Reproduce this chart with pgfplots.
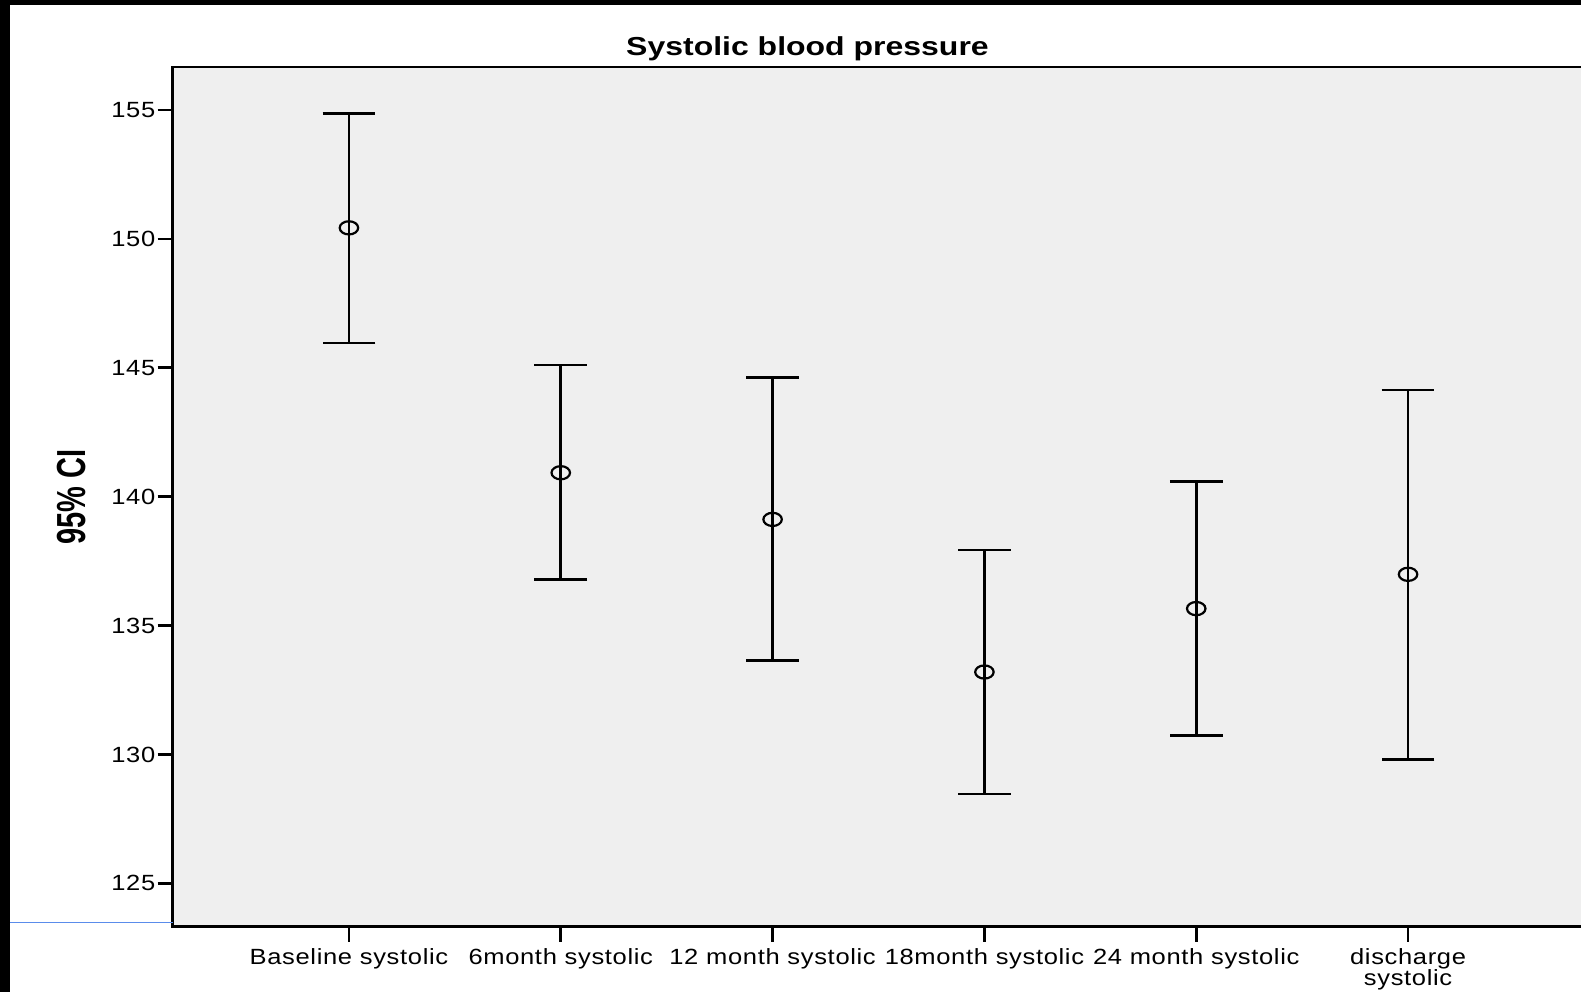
\documentclass[border=0pt]{standalone}
\usepackage{fontspec}
\setmainfont[FakeStretch=1.16,LetterSpace=3]{Liberation Sans}
\newfontfamily\titlefont[FakeStretch=1.23]{Liberation Sans}
\newfontfamily\plainfont{Liberation Sans}
\usepackage{graphicx}
\usepackage{pgfplots}
\usepackage{pgfplotstable}
\pgfplotsset{compat=1.18}
\definecolor{bgcol}{RGB}{239,239,239}
\definecolor{bluel}{RGB}{90,140,235}

\pgfplotstableread{
x mean upper lower
0 150.43 154.87 145.97
1 140.93 145.11 136.78
2 139.12 144.62 133.64
3 133.20 137.93 128.46
4 135.66 140.60 130.73
5 136.99 144.14 129.81
}\datatable

\begin{document}
\begin{tikzpicture}
\fill[white] (0,0) rectangle (790.5pt,496pt);
\begin{axis}[
  at={(86.35pt,32.65pt)}, anchor=south west,
  scale only axis, width=705.8pt, height=429.85pt,
  xmin=-0.832, xmax=5.832, ymin=123.32, ymax=156.67,
  axis background/.style={fill=bgcol},
  axis line style={line width=1.3pt, black},
  xtick={0,1,2,3,4,5},
  xticklabels={Baseline systolic, 6month systolic, 12 month systolic, 18month systolic, 24 month systolic, discharge\\systolic},
  ytick={125,130,135,140,145,150,155},
  tick align=outside, major tick length=7.5pt,
  tick style={line width=1.4pt, black},
  xtick pos=bottom, ytick pos=left,
  /pgf/number format/assume math mode=true,
  x tick label style={align=center, font=\fontsize{11}{10.3}\selectfont},
  y tick label style={font=\fontsize{11}{13}\selectfont, inner xsep=1pt},
  ylabel={\scalebox{1}[1.4]{95\% CI}},
  ylabel style={at={(axis description cs:-0.061,0.5)}, anchor=south, inner sep=0pt, font=\plainfont\bfseries\fontsize{14.5}{16}\selectfont},
]
\addplot[black, only marks, mark=o, mark size=3.3pt,
  mark options={xscale=1.4, line width=1.1pt, black},
  error bars/.cd, y dir=both, y explicit,
  error bar style={line width=1.3pt, black},
  error mark options={rotate=90, mark size=13.2pt, line width=1.3pt, black}]
  table[x=x, y=mean,
        y error plus expr=\thisrow{upper}-\thisrow{mean},
        y error minus expr=\thisrow{mean}-\thisrow{lower}] {\datatable};
\end{axis}
\node[anchor=center, inner sep=0pt, font=\titlefont\bfseries\fontsize{13}{15}\selectfont] at (403.75pt,471.8pt) {Systolic blood pressure};
\fill[black] (0,493.65pt) rectangle (790.5pt,496pt);
\fill[black] (0,0) rectangle (5pt,496pt);
\draw[bluel, line width=0.5pt] (5pt,34.85pt) -- (86.35pt,34.85pt);
\pgfresetboundingbox
\useasboundingbox (0,0) rectangle (790.5pt,496pt);
\end{tikzpicture}
\end{document}
